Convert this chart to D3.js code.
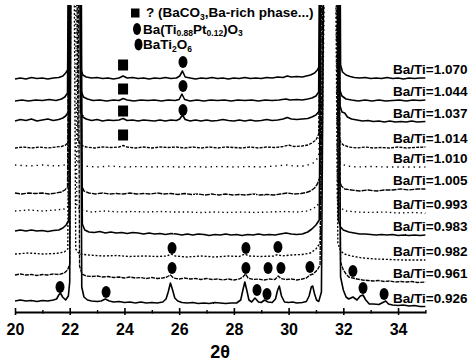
<!DOCTYPE html>
<html><head><meta charset="utf-8">
<script src="https://cdn.jsdelivr.net/npm/d3@7"></script>
<style>
html,body{margin:0;padding:0;background:#fff;}
svg{display:block;font-family:"Liberation Sans",Arial,Helvetica,sans-serif;font-weight:bold;}
</style></head><body>
<svg id="chart" width="476" height="363"></svg>
<script>
// 2θ axis ticks
const majorTicks = [20, 22, 24, 26, 28, 30, 32, 34];
const minorTicks = [21, 23, 25, 27, 29, 31, 33, 35];

// Ba/Ti ratio of each pattern, top to bottom
const ratios = ["1.070", "1.044", "1.037", "1.014", "1.010", "1.005", "0.993", "0.983", "0.982", "0.961", "0.926"];
// vertical stacking offset of each pattern (intensity units)
const offsets = [233, 211, 191, 164, 145, 118, 100, 80, 56, 34, 10];

// patterns: [2θ, intensity above offset]
const p1070 = [[20,0],[20.2,1],[20.4,0],[20.6,1.5],[20.8,0.5],[21,1],[21.2,0],[21.4,1],[21.6,1.5],[21.75,3],[21.85,6],[21.95,10],[22.02,400],[22.34,400],[22.4,10],[22.48,4],[22.6,2],[22.8,1],[23,1.5],[23.2,0.5],[23.4,1],[23.6,0],[23.8,1],[23.95,3],[24.1,1],[24.3,1.5],[24.5,0.5],[24.7,1],[24.9,0],[25.1,1],[25.3,0.5],[25.5,1.5],[25.7,0.5],[25.9,1],[26.02,3],[26.12,8],[26.22,2],[26.4,1],[26.6,0],[26.8,1],[27,0.5],[27.2,1.5],[27.4,0.5],[27.6,1],[27.8,0],[28,1],[28.2,0.5],[28.4,1.5],[28.6,0.5],[28.8,1],[29,0.5],[29.2,1.5],[29.4,1],[29.6,2],[29.8,1.5],[29.95,3],[30.1,2],[30.3,2.5],[30.5,2],[30.65,3],[30.8,4],[30.95,6],[31.05,9],[31.14,14],[31.2,400],[31.84,400],[31.9,14],[31.97,7],[32.1,4],[32.25,2.5],[32.4,1.5],[32.6,1],[32.8,1.5],[33,0.5],[33.2,1],[33.4,0.5],[33.6,1.5],[33.8,0.5],[34,1],[34.2,0],[34.4,1],[34.6,0.5],[34.8,1],[35,1]];
const p1044 = [[20,0],[20.25,1],[20.5,0],[20.75,1],[21,0.5],[21.25,1.5],[21.5,0.5],[21.7,2],[21.82,4],[21.92,8],[22.0,400],[22.36,400],[22.42,10],[22.5,4],[22.65,2],[22.85,0.5],[23.1,1],[23.35,0],[23.6,1],[23.8,0.5],[23.95,2.5],[24.1,1],[24.35,0],[24.6,1],[24.85,0.5],[25.1,1],[25.35,0],[25.6,1],[25.85,0.5],[26.0,1.5],[26.1,7],[26.2,1.5],[26.4,0],[26.65,1],[26.9,0],[27.15,1],[27.4,0.5],[27.65,1],[27.9,0],[28.15,1],[28.4,0.5],[28.65,1],[28.9,0],[29.15,1],[29.4,0.5],[29.65,1],[29.9,2],[30.05,1],[30.3,1.5],[30.5,1],[30.7,2],[30.85,3],[31.0,5],[31.1,9],[31.18,400],[31.8,400],[31.86,12],[31.95,5],[32.1,2],[32.3,1],[32.55,0],[32.8,1],[33.05,0],[33.3,1],[33.55,0],[33.8,0.5],[34.05,1],[34.3,0],[34.55,1],[34.8,0.5],[35,1]];
const p1037 = [[20,0],[20.2,1.5],[20.4,0.5],[20.6,2],[20.8,0],[21,1],[21.2,2],[21.4,0.5],[21.6,1.5],[21.75,3],[21.85,5],[21.95,9],[22.02,400],[22.32,400],[22.4,9],[22.48,4],[22.6,2],[22.8,0.5],[23,1.5],[23.2,0],[23.4,1],[23.6,0.5],[23.8,1],[23.95,2.5],[24.1,0.5],[24.3,1],[24.5,0],[24.7,1],[24.9,0.5],[25.1,0],[25.3,1],[25.5,0],[25.7,1],[25.9,0.5],[26.02,2],[26.12,6],[26.22,1.5],[26.4,0],[26.6,1],[26.8,0],[27,1],[27.2,0],[27.4,0.5],[27.6,1.5],[27.8,0.5],[28,0],[28.2,1],[28.4,0],[28.6,1],[28.8,0],[29,0.5],[29.2,1.5],[29.4,0.5],[29.6,1],[29.8,2],[29.95,3.5],[30.1,2],[30.3,1.5],[30.5,2],[30.7,2.5],[30.85,4],[31.0,6],[31.12,10],[31.2,400],[31.82,400],[31.88,15],[31.95,9],[32.05,8],[32.15,4],[32.3,2],[32.5,1],[32.7,0],[32.9,0.5],[33.1,-0.5],[33.3,0],[33.5,-1],[33.7,0],[33.9,-1],[34.1,-0.5],[34.3,-1],[34.5,0],[34.7,-1],[35,-0.5]];
const p1014 = [[20,0],[20.3,1],[20.6,0],[20.9,1],[21.2,0],[21.5,1],[21.7,1.5],[21.85,3],[21.95,6],[22.02,400],[22.22,400],[22.3,8],[22.4,3],[22.6,1],[22.9,0],[23.2,1],[23.5,0.5],[23.8,1],[23.95,2.5],[24.1,1],[24.4,0],[24.7,1],[25,0],[25.3,1],[25.6,0.5],[25.9,1],[26.2,0],[26.5,1],[26.8,0],[27.1,1],[27.4,0],[27.7,1],[28,0.5],[28.3,0],[28.6,1],[28.9,0],[29.2,1],[29.5,0.5],[29.8,1.5],[30,3],[30.2,1.5],[30.5,2],[30.7,3],[30.85,5],[31.0,8],[31.1,14],[31.25,400],[31.75,400],[31.82,14],[31.9,6],[32.0,3],[32.2,1],[32.5,0],[32.8,1],[33.1,0],[33.4,0.5],[33.7,0],[34,1],[34.3,0],[34.6,0.5],[35,1]];
const p1010 = [[20,2],[20.5,1],[21,2],[21.5,1],[21.8,2],[21.95,5],[22.05,400],[22.2,400],[22.3,5],[22.5,1],[23,0],[23.5,1],[24,0],[24.5,0.5],[25,0],[25.5,0.5],[26,0],[26.5,0.5],[27,0],[27.5,0.5],[28,0],[28.5,0.5],[29,0],[29.5,1],[29.9,2],[30.2,1],[30.6,1],[30.9,4],[31.1,10],[31.3,400],[31.7,400],[31.8,10],[31.9,4],[32.1,1],[32.5,0],[33,0.5],[33.5,0],[34,0],[34.5,0],[35,0]];
const p1005 = [[20,1],[20.25,0],[20.5,1],[20.75,0.5],[21,1],[21.25,0],[21.5,1],[21.7,2],[21.82,4],[21.92,7],[22.0,400],[22.38,400],[22.44,8],[22.52,3],[22.7,1],[22.95,0],[23.2,1],[23.45,0],[23.7,0.5],[23.95,0],[24.2,1],[24.45,0],[24.7,0.5],[24.95,0],[25.2,1],[25.45,0],[25.7,0.5],[25.95,-0.5],[26.2,0.5],[26.45,-0.5],[26.7,0],[26.95,-1],[27.2,0],[27.45,-1],[27.7,0],[27.95,-1],[28.2,-0.5],[28.45,-1],[28.7,0],[28.95,-1],[29.2,-0.5],[29.45,-1],[29.7,0],[29.95,1],[30.2,0],[30.45,0.5],[30.65,1.5],[30.8,3],[30.95,6],[31.05,10],[31.15,17],[31.25,400],[31.8,400],[31.86,14],[31.93,8],[32.05,5],[32.3,4],[32.6,3],[32.9,4],[33.2,3],[33.5,4],[33.8,4],[34.1,5],[34.4,4],[34.7,5],[35,5]];
const p0993 = [[20,1],[20.5,2],[21,1],[21.5,2],[21.8,3],[21.95,6],[22.02,400],[22.18,400],[22.26,6],[22.4,2],[22.8,0],[23.3,1],[23.8,0],[24.3,0.5],[24.8,0],[25.3,0.5],[25.8,0],[26.3,0],[26.8,-0.5],[27.3,0],[27.8,-0.5],[28.3,0],[28.8,-0.5],[29.3,0],[29.8,0.5],[30.3,0],[30.7,1],[31.0,5],[31.2,12],[31.4,400],[31.68,400],[31.78,12],[31.9,4],[32.1,1],[32.5,0],[33,-0.5],[33.5,0],[34,-1],[34.5,-0.5],[35,-1]];
const p0983 = [[20,1],[20.2,2],[20.4,1],[20.6,2],[20.8,1],[21,1.5],[21.2,0.5],[21.4,1.5],[21.6,2],[21.75,4],[21.87,7],[21.97,12],[22.04,400],[22.4,400],[22.46,8],[22.55,2],[22.7,0],[22.9,-0.5],[23.1,0.5],[23.3,-1],[23.5,0],[23.7,-1],[23.9,-0.5],[24.1,-1.5],[24.3,-0.5],[24.5,-1],[24.7,-2],[24.9,-1],[25.1,-2],[25.3,-1.5],[25.5,-2.5],[25.7,-1.5],[25.9,-2],[26.1,-3],[26.3,-2],[26.5,-3],[26.7,-2],[26.9,-2.5],[27.1,-3.5],[27.3,-2.5],[27.5,-3],[27.7,-2],[27.9,-3],[28.1,-2.5],[28.3,-3.5],[28.5,-2.5],[28.7,-3],[28.9,-2],[29.1,-3],[29.3,-2.5],[29.5,-3],[29.7,-2],[29.9,-1],[30.1,-2],[30.3,-2.5],[30.5,-2],[30.7,0],[30.85,3],[31.0,7],[31.12,12],[31.22,400],[31.75,400],[31.82,12],[31.9,5],[32.0,2],[32.2,0],[32.4,-1],[32.6,-2],[32.8,-2],[33,-2.5],[33.2,-3],[33.4,-2.5],[33.6,-3],[33.8,-2.5],[34,-3.5],[34.2,-3],[34.4,-3.5],[34.6,-3],[34.8,-3.5],[35,-3]];
const p0982 = [[20,2],[20.5,3],[21,2],[21.5,2.5],[21.8,4],[21.93,7],[22.0,400],[22.14,400],[22.22,7],[22.35,2],[22.7,1],[23.2,0],[23.7,0.5],[24.2,-0.5],[24.7,0],[25.2,-0.5],[25.55,0],[25.7,2],[25.85,0],[26.3,-1],[26.8,0],[27.3,-1],[27.8,0],[28.2,-0.5],[28.4,2],[28.55,0],[29,-0.5],[29.45,0],[29.6,1.5],[29.75,0],[30.1,1],[30.5,1.5],[30.8,3],[31.0,7],[31.15,13],[31.32,400],[31.7,400],[31.8,13],[31.9,5],[32.05,2],[32.3,0],[32.7,-2],[33.2,-3],[33.7,-3.5],[34.2,-4],[34.7,-4],[35,-4]];
const p0961 = [[20,3],[20.2,4],[20.4,3],[20.6,3.5],[20.8,2.5],[21,3.5],[21.2,3],[21.4,4],[21.6,3.5],[21.8,5],[21.92,8],[22.0,14],[22.06,400],[22.3,400],[22.36,12],[22.45,4],[22.6,2],[22.8,1.5],[23,2],[23.2,1],[23.4,1.5],[23.6,0.5],[23.8,1],[24,0],[24.2,1],[24.4,0],[24.6,0.5],[24.8,-0.5],[25,0.5],[25.2,-0.5],[25.4,0],[25.55,1],[25.68,3],[25.8,0],[26,-1],[26.2,0],[26.4,-1],[26.6,-0.5],[26.8,-1.5],[27,-0.5],[27.2,-1.5],[27.4,-1],[27.6,-2],[27.8,-1],[28,-2],[28.2,-1],[28.33,1],[28.42,4],[28.52,0],[28.7,-1.5],[28.9,-1],[29.1,-2],[29.3,-1],[29.5,-1.5],[29.62,2],[29.72,-0.5],[29.9,-1.5],[30.1,-1],[30.3,-2],[30.5,-1],[30.65,0],[30.78,3],[30.9,4],[31.05,8],[31.15,13],[31.3,400],[31.82,400],[31.9,16],[32.0,8],[32.1,4],[32.2,1],[32.35,0],[32.5,-1],[32.7,-2],[32.9,-2.5],[33.1,-3],[33.3,-2.5],[33.5,-3.5],[33.7,-3],[33.9,-4],[34.1,-3.5],[34.3,-4],[34.5,-3.5],[34.7,-4.5],[35,-4]];
const p0926 = [[20,1],[20.2,2],[20.4,1],[20.6,1.5],[20.8,0.5],[21,1.5],[21.2,1],[21.4,2],[21.52,3],[21.6,7],[21.66,9],[21.74,5],[21.85,2],[21.95,6],[22.0,20],[22.05,400],[22.38,400],[22.44,15],[22.52,5],[22.65,2],[22.8,1],[23,0.5],[23.15,1],[23.3,3],[23.45,1],[23.6,0],[23.8,0.5],[24,-0.5],[24.2,0],[24.4,-1],[24.6,0],[24.8,-1],[25,-0.5],[25.2,-1],[25.4,0],[25.52,3],[25.6,10],[25.68,19],[25.76,12],[25.84,4],[25.95,1],[26.1,-0.5],[26.3,-1],[26.5,-0.5],[26.7,-1.5],[26.9,-1],[27.1,-1.5],[27.3,-0.5],[27.5,-1],[27.7,-1.5],[27.9,-1],[28.1,-1],[28.25,2],[28.33,12],[28.4,20],[28.47,12],[28.55,2],[28.65,0],[28.77,4],[28.9,0],[29.0,-0.5],[29.12,2],[29.25,0],[29.4,-0.5],[29.52,3],[29.6,12],[29.66,16],[29.74,6],[29.85,0],[30,-0.5],[30.15,0],[30.3,-1],[30.5,-0.5],[30.65,0.5],[30.75,6],[30.83,15],[30.88,16],[30.95,8],[31.02,2],[31.1,0.5],[31.2,10],[31.3,400],[31.8,400],[31.9,25],[32.0,12],[32.1,5],[32.2,3],[32.35,5],[32.5,2],[32.62,6],[32.72,7],[32.82,2],[32.95,-2],[33.1,-2],[33.3,-2.5],[33.48,0],[33.55,1],[33.65,-2],[33.8,-3],[34,-3.5],[34.2,-3],[34.4,-4],[34.6,-3.5],[34.8,-4.5],[35,-4.5]];
const patterns = [p1070, p1044, p1037, p1014, p1010, p1005, p0993, p0983, p0982, p0961, p0926];

// phase markers: [2θ, pattern, height above offset]
const unknownPhase = [[23.95, "1.070", 14], [23.95, "1.044", 12], [23.95, "1.037", 10], [23.95, "1.014", 13]];
const ptPhase = [[26.14, "1.070", 17], [26.14, "1.044", 15], [26.14, "1.037", 11],
  [25.74, "0.982", 8], [28.44, "0.982", 8], [29.61, "0.982", 9],
  [25.74, "0.961", 10], [28.44, "0.961", 10], [29.25, "0.961", 10], [29.72, "0.961", 10], [30.78, "0.961", 11], [32.35, "0.961", 7]];
const ti2Phase = [[21.645, "0.926", 15], [23.33, "0.926", 10], [28.845, "0.926", 12], [29.21, "0.926", 8], [32.72, "0.926", 14], [33.49, "0.926", 8]];

// line style per pattern
const dashes = {"1.014": "3,1.2", "1.010": "1.4,4", "1.005": "5,1", "0.993": "1.4,3", "0.982": "2,1.8", "0.961": "4,1"};

const svg = d3.select("#chart");
const x = d3.scaleLinear().domain([20, 35]).range([15, 425.4]);
const y = d3.scaleLinear().domain([0, 312]).range([312, 0]);
const byRatio = {};
ratios.forEach((r, i) => byRatio[r] = i);

const defs = svg.append("defs");
defs.append("clipPath").attr("id", "plotclip")
  .append("rect").attr("x", 0).attr("y", 5).attr("width", 476).attr("height", 310);
// slight roughness of the recorded counts
const rough = defs.append("filter").attr("id", "rough")
  .attr("x", "-2%").attr("y", "-2%").attr("width", "104%").attr("height", "104%");
rough.append("feTurbulence").attr("type", "fractalNoise").attr("baseFrequency", 0.9)
  .attr("numOctaves", 1).attr("seed", 3).attr("result", "n");
rough.append("feDisplacementMap").attr("in", "SourceGraphic").attr("in2", "n")
  .attr("scale", 1.6).attr("xChannelSelector", "R").attr("yChannelSelector", "G");

const plot = svg.append("g").attr("clip-path", "url(#plotclip)");
patterns.forEach((pts, i) => {
  const off = offsets[i];
  const line = d3.line().x(d => x(d[0])).y(d => y(off + d[1]));
  const dash = dashes[ratios[i]];
  plot.append("path")
    .attr("d", line(pts))
    .attr("fill", "none")
    .attr("stroke", "#000")
    .attr("stroke-width", dash ? 1.35 : 1.6)
    .attr("stroke-linejoin", "round")
    .attr("stroke-dasharray", dash || null)
    .attr("filter", "url(#rough)");
});

// ratio labels at the right end of each pattern
svg.append("g").selectAll("text").data(ratios).join("text")
  .attr("x", 393)
  .attr("y", (r, i) => y(offsets[i] + patterns[i][patterns[i].length - 1][1]) - 4)
  .attr("font-size", 13.5)
  .text(r => "Ba/Ti=" + r);

// phase markers
const markY = d => y(offsets[byRatio[d[1]]] + d[2]);
svg.append("g").selectAll("rect").data(unknownPhase).join("rect")
  .attr("x", d => x(d[0]) - 5).attr("y", d => markY(d) - 5.5)
  .attr("width", 10).attr("height", 11).attr("fill", "#000");
svg.append("g").selectAll("ellipse").data(ptPhase.concat(ti2Phase)).join("ellipse")
  .attr("cx", d => x(d[0])).attr("cy", markY)
  .attr("rx", 4.5).attr("ry", 6).attr("fill", "#000");

// axis
const axisG = svg.append("g").attr("transform", "translate(0,312)");
axisG.call(d3.axisBottom(x).tickValues(majorTicks).tickSizeOuter(0).tickSizeInner(3));
axisG.select(".domain").attr("stroke-width", 2);
axisG.selectAll(".tick line").attr("y1", -4).attr("y2", 3).attr("stroke-width", 1.6);
axisG.selectAll(".tick text").attr("y", 23).attr("dy", null)
  .attr("font-size", 16).attr("font-weight", "bold").attr("fill", "#000")
  .attr("font-family", "'Liberation Sans', Arial, sans-serif");
const minorG = svg.append("g").attr("transform", "translate(0,312)");
minorG.call(d3.axisBottom(x).tickValues(minorTicks).tickSizeOuter(0).tickFormat(""));
minorG.select(".domain").remove();
minorG.selectAll(".tick line").attr("y1", -2).attr("y2", 1.5).attr("stroke-width", 1.4);

svg.append("text").attr("x", 220).attr("y", 358).attr("text-anchor", "middle")
  .attr("font-size", 18).text("2θ");

// legend
const legend = svg.append("g").attr("font-size", 13.5);
legend.append("rect").attr("x", 131).attr("y", 8.5).attr("width", 8.5).attr("height", 9).attr("fill", "#000");
legend.append("ellipse").attr("cx", 137).attr("cy", 29).attr("rx", 4).attr("ry", 6).attr("fill", "#000");
legend.append("ellipse").attr("cx", 138.5).attr("cy", 44.5).attr("rx", 4).attr("ry", 6).attr("fill", "#000");

function chemText(g, x0, y0, parts) {
  const t = g.append("text").attr("x", x0).attr("y", y0);
  let shifted = false;
  parts.forEach(p => {
    const sub = Array.isArray(p);
    const s = t.append("tspan").text(sub ? p[0] : p);
    if (sub && !shifted) { s.attr("dy", 2.5).attr("font-size", 8.5); shifted = true; }
    else if (sub) { s.attr("font-size", 8.5); }
    else if (shifted) { s.attr("dy", -2.5); shifted = false; }
  });
}
chemText(legend, 146, 17, ["? (BaCO", ["3"], ",Ba-rich phase...)"]);
chemText(legend, 143, 33.5, ["Ba(Ti", ["0.88"], "Pt", ["0.12"], ")O", ["3"]]);
chemText(legend, 143, 49, ["BaTi", ["2"], "O", ["6"]]);
</script>
</body></html>
